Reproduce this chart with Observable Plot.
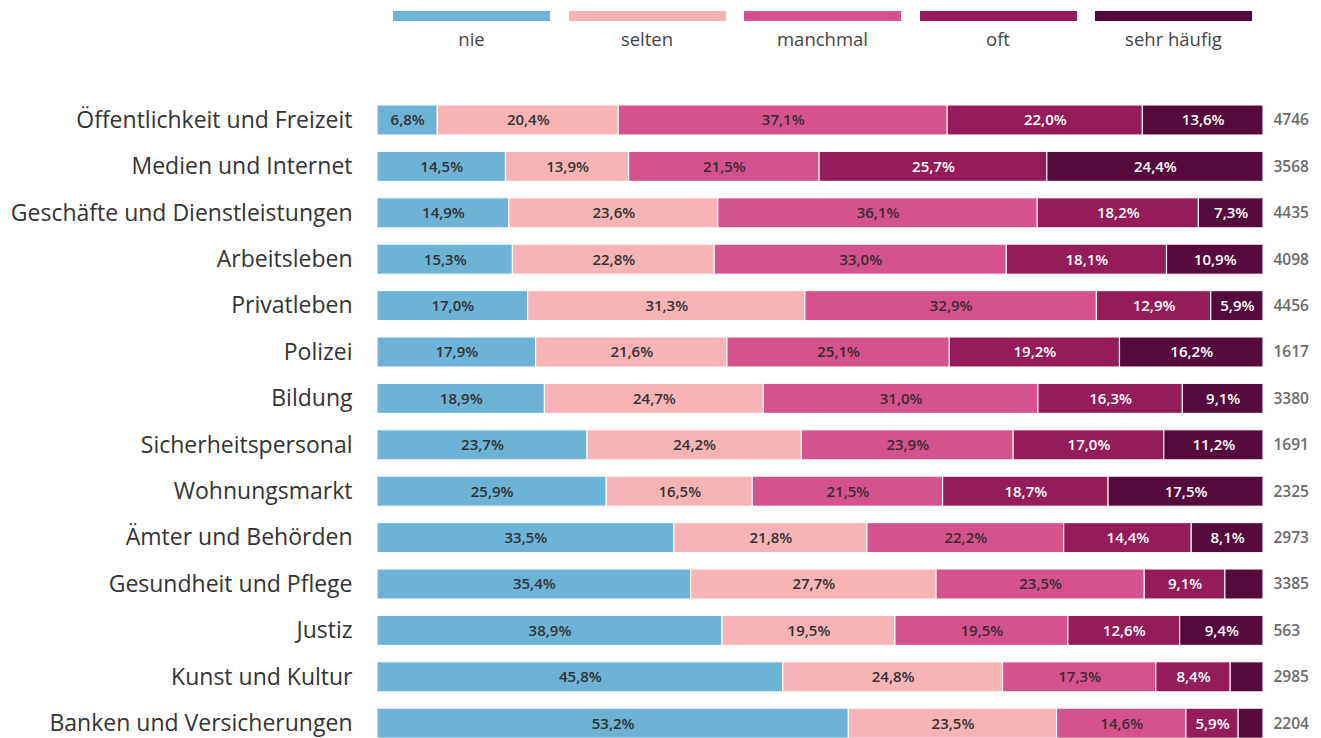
<!DOCTYPE html>
<html>
<head>
<meta charset="utf-8">
<script src="https://cdn.jsdelivr.net/npm/d3@7"></script>
<script src="https://cdn.jsdelivr.net/npm/@observablehq/plot@0.6"></script>
<style>
  html, body { margin: 0; padding: 0; background: #fff; overflow: hidden; }
  body { width: 1321px; height: 738px; font-family: "Open Sans", sans-serif; }
  #legend { position: relative; height: 60px; width: 1321px; }
  .lg-item { position: absolute; top: 11px; width: 157px; text-align: center; }
  .lg-sw { height: 10px; width: 157px; }
  .lg-lab { font-size: 18.5px; color: #444; margin-top: 6px; line-height: 24px; }
  #chart svg { display: block; }
</style>
</head>
<body>
<div id="legend"></div>
<div id="chart"></div>
<script>
const categories = [
  "Öffentlichkeit und Freizeit",
  "Medien und Internet",
  "Geschäfte und Dienstleistungen",
  "Arbeitsleben",
  "Privatleben",
  "Polizei",
  "Bildung",
  "Sicherheitspersonal",
  "Wohnungsmarkt",
  "Ämter und Behörden",
  "Gesundheit und Pflege",
  "Justiz",
  "Kunst und Kultur",
  "Banken und Versicherungen"
];
const levels = ["nie", "selten", "manchmal", "oft", "sehr häufig"];
const colors = ["#6cb3d6", "#f8b3b6", "#d5538c", "#931c59", "#560a3c"];
const labelColors = ["#333333", "#333333", "#3a2a36", "#ffffff", "#ffffff"];

const nie        = [6.8, 14.5, 14.9, 15.3, 17.0, 17.9, 18.9, 23.7, 25.9, 33.5, 35.4, 38.9, 45.8, 53.2];
const selten     = [20.4, 13.9, 23.6, 22.8, 31.3, 21.6, 24.7, 24.2, 16.5, 21.8, 27.7, 19.5, 24.8, 23.5];
const manchmal   = [37.1, 21.5, 36.1, 33.0, 32.9, 25.1, 31.0, 23.9, 21.5, 22.2, 23.5, 19.5, 17.3, 14.6];
const oft        = [22.0, 25.7, 18.2, 18.1, 12.9, 19.2, 16.3, 17.0, 18.7, 14.4, 9.1, 12.6, 8.4, 5.9];
const sehrHaeufig= [13.6, 24.4, 7.3, 10.9, 5.9, 16.2, 9.1, 11.2, 17.5, 8.1, 4.3, 9.4, 3.7, 2.8];
const counts     = [4746, 3568, 4435, 4098, 4456, 1617, 3380, 1691, 2325, 2973, 3385, 563, 2985, 2204];

// legend
const legend = document.getElementById("legend");
levels.forEach((lv, i) => {
  const it = document.createElement("div");
  it.className = "lg-item";
  it.style.left = (393 + i * 175.5) + "px";
  it.innerHTML = `<div class="lg-sw" style="background:${colors[i]}"></div><div class="lg-lab">${lv}</div>`;
  legend.appendChild(it);
});

const series = [nie, selten, manchmal, oft, sehrHaeufig];
const data = [];
categories.forEach((c, ci) => {
  series.forEach((s, li) => {
    data.push({cat: c, level: levels[li], li, value: s[ci],
      label: s[ci] > 5 ? s[ci].toFixed(1).replace(".", ",") + "%" : ""});
  });
});
const totals = categories.map((c, i) => ({cat: c, n: counts[i]}));

const stackOpts = {x: "value", y: "cat", z: "level", order: levels, offset: "normalize"};

const chart = Plot.plot({
  width: 1321,
  height: 678,
  marginLeft: 377,
  marginRight: 58,
  marginTop: 0,
  marginBottom: 0,
  style: {fontFamily: "Open Sans, sans-serif", background: "#fff", overflow: "hidden"},
  x: {domain: [0, 1], axis: null},
  y: {domain: categories, range: [28.6, 694.6], padding: 0.353, round: false, label: null},
  color: {domain: levels, range: colors},
  marks: [
    Plot.barX(data, Plot.stackX({...stackOpts, fill: "level", stroke: "#fff", strokeWidth: 1.2, strokeOpacity: 0.9})),
    Plot.text(data, Plot.stackX({...stackOpts, text: "label",
      fill: d => labelColors[d.li], fontSize: 15, fontWeight: 600})),
    Plot.text(totals, {x: () => 1, y: "cat", text: d => String(d.n), textAnchor: "start", dx: 10,
      fill: "#6a6a6a", fontSize: 15.5, fontWeight: 600}),
    Plot.axisY({tickSize: 0, tickPadding: 25, fontSize: 23, color: "#333", label: null})
  ]
});
document.getElementById("chart").appendChild(chart);
</script>
</body>
</html>
